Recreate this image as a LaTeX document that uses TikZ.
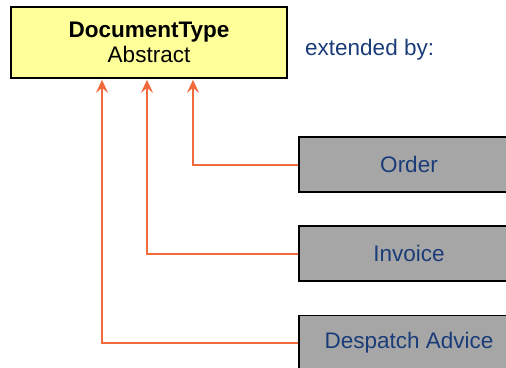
\documentclass[tikz,border=0pt]{standalone}
\usepackage{fontspec}
\setmainfont{Liberation Sans}
\usetikzlibrary{arrows.meta}
\definecolor{ylw}{HTML}{FFFF99}
\definecolor{gry}{HTML}{A6A6A6}
\definecolor{navy}{HTML}{1A3C78}
\definecolor{org}{HTML}{F26A3C}
\begin{document}
\begin{tikzpicture}[x=1pt,y=-1pt,
  basebox/.style={draw=black,line width=1.6pt,inner sep=0pt},
  topbox/.style={basebox,fill=ylw,minimum width=276pt,minimum height=71pt,align=center,font=\fontsize{22.5}{25}\selectfont},
  subbox/.style={basebox,fill=gry,minimum width=220pt,minimum height=55pt,text=navy,font=\fontsize{22.5}{25}\selectfont},
  link/.style={draw=org,line width=2pt,-{Stealth[length=13pt,width=12pt,inset=5pt]}}]
\useasboundingbox (0,0) rectangle (506,367);
\clip (0,0) rectangle (506,367);
\node[topbox] (dt) at (149,42.5) {\textbf{DocumentType}\\Abstract};
\node[text=navy,font=\fontsize{22.5}{25}\selectfont,anchor=west,inner sep=0pt] (ext) at (305,50) {extended by:};
\node[subbox] (order) at (409,164.5) {Order};
\node[subbox] (invoice) at (409,253.5) {Invoice};
\node[subbox] (despatch) at (409,343) {Despatch Advice};
\draw[link] (order.west) -| ([xshift=44pt,yshift=-1pt]dt.south);
\draw[link] (invoice.west) -| ([xshift=-2pt,yshift=-1pt]dt.south);
\draw[link] (despatch.west) -| ([xshift=-47pt,yshift=-1pt]dt.south);
\end{tikzpicture}
\end{document}
